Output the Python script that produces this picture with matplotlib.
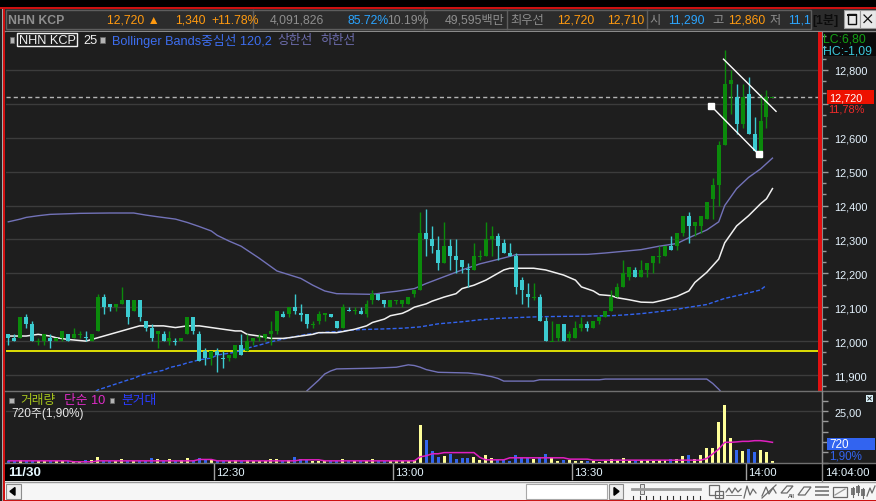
import numpy as np
import matplotlib
matplotlib.use("Agg")
import matplotlib.pyplot as plt
from matplotlib.patches import Rectangle, Polygon
import matplotlib.transforms as mtrans

plt.rcParams['font.family'] = ['Liberation Sans', 'DejaVu Sans', 'Noto Sans CJK KR']

# ------------------------------------------------------------------ data
stock_name = "NHN KCP"
open_ = [12020, 12010, 12010, 12070, 12050, 12000, 12000, 12010, 12000, 12010,
         12020, 12010, 12020, 12010, 12000, 12030, 12130, 12110, 12100, 12110,
         12120, 12090, 12120, 12060, 12040, 12020, 12020, 12000, 12000, 12000,
         12020, 12070, 12020, 11970, 11950, 11970, 11950, 11950, 11950, 11990,
         11970, 12000, 12010, 12010, 12020, 12030, 12080, 12080, 12100, 12080,
         12080, 12050, 12060, 12080, 12080, 12060, 12040, 12090, 12090, 12090,
         12080, 12120, 12140, 12120, 12100, 12120, 12110, 12110, 12140, 12150,
         12320, 12300, 12270, 12230, 12280, 12250, 12240, 12210, 12210, 12250,
         12250, 12300, 12310, 12290, 12260, 12250, 12180, 12140, 12130, 12130,
         12060, 12000, 12010, 12050, 12010, 12010, 12040, 12050, 12040, 12060,
         12070, 12090, 12130, 12160, 12190, 12210, 12190, 12210, 12230, 12250,
         12250, 12280, 12280, 12320, 12370, 12340, 12340, 12360, 12420, 12460,
         12580, 12760, 12720, 12640, 12730, 12610, 12560, 12660, 12720]
high = [12020, 12020, 12070, 12080, 12060, 12010, 12020, 12020, 12010, 12030,
        12020, 12040, 12030, 12030, 12020, 12140, 12140, 12110, 12110, 12160,
        12120, 12120, 12120, 12060, 12050, 12030, 12030, 12030, 12010, 12010,
        12070, 12070, 12030, 11980, 11970, 11980, 11970, 11960, 11990, 12020,
        12020, 12010, 12020, 12020, 12060, 12090, 12090, 12100, 12140, 12110,
        12080, 12060, 12090, 12080, 12080, 12060, 12110, 12100, 12100, 12100,
        12120, 12150, 12140, 12120, 12120, 12120, 12120, 12130, 12150, 12380,
        12390, 12340, 12310, 12350, 12300, 12300, 12240, 12230, 12290, 12270,
        12350, 12340, 12320, 12300, 12290, 12260, 12190, 12170, 12170, 12140,
        12070, 12060, 12050, 12050, 12030, 12060, 12070, 12060, 12060, 12070,
        12090, 12150, 12170, 12240, 12220, 12220, 12240, 12230, 12250, 12280,
        12280, 12310, 12320, 12370, 12380, 12350, 12370, 12410, 12480, 12590,
        12860, 12800, 12760, 12760, 12780, 12660, 12730, 12740, 12720]
low = [11990, 12000, 12010, 12040, 12000, 11990, 11990, 11980, 12000, 12000,
       12000, 12010, 12010, 12000, 12000, 12030, 12080, 12090, 12090, 12110,
       12050, 12090, 12060, 12030, 12000, 11980, 12000, 11990, 11990, 12000,
       12020, 12020, 11940, 11930, 11930, 11910, 11920, 11940, 11950, 11960,
       11970, 11990, 12000, 12000, 11990, 12020, 12070, 12070, 12080, 12060,
       12040, 12040, 12050, 12060, 12070, 12040, 12040, 12090, 12080, 12080,
       12070, 12110, 12120, 12100, 12100, 12110, 12100, 12110, 12130, 12150,
       12250, 12260, 12210, 12230, 12210, 12200, 12200, 12160, 12210, 12240,
       12250, 12250, 12240, 12260, 12250, 12140, 12110, 12100, 12120, 12060,
       12000, 12000, 12000, 12000, 12000, 12010, 12030, 12030, 12040, 12050,
       12070, 12090, 12130, 12160, 12180, 12190, 12190, 12190, 12200, 12230,
       12250, 12270, 12270, 12310, 12290, 12310, 12320, 12360, 12360, 12400,
       12580, 12670, 12610, 12630, 12610, 12560, 12540, 12630, 12720]
close = [12010, 12000, 12070, 12050, 12000, 12000, 12020, 12000, 12010, 12030,
         12000, 12020, 12020, 12010, 12020, 12130, 12100, 12100, 12110, 12120,
         12070, 12120, 12070, 12040, 12010, 12030, 12000, 12010, 12000, 12010,
         12070, 12030, 11940, 11950, 11970, 11960, 11950, 11960, 11990, 11960,
         12000, 12010, 12010, 12020, 12030, 12090, 12070, 12100, 12090, 12080,
         12050, 12050, 12080, 12080, 12070, 12040, 12100, 12090, 12090, 12080,
         12110, 12140, 12120, 12110, 12120, 12120, 12120, 12130, 12150, 12320,
         12300, 12280, 12230, 12280, 12250, 12240, 12220, 12210, 12250, 12250,
         12300, 12310, 12280, 12260, 12250, 12160, 12150, 12130, 12130, 12060,
         12000, 12000, 12050, 12000, 12020, 12040, 12050, 12040, 12060, 12070,
         12090, 12130, 12160, 12200, 12220, 12190, 12210, 12230, 12250, 12250,
         12280, 12270, 12320, 12370, 12340, 12350, 12370, 12410, 12460, 12580,
         12760, 12770, 12640, 12720, 12610, 12560, 12650, 12720, 12720]
volume = [800, 650, 1000, 650, 800, 650, 500, 650, 500, 500,
          500, 500, 300, 1000, 1000, 2450, 650, 650, 500, 1470,
          650, 500, 500, 650, 1950, 1470, 500, 1470, 650, 1000,
          1950, 800, 1950, 1000, 1470, 650, 500, 500, 1000, 500,
          1000, 800, 500, 800, 1470, 1470, 500, 1000, 2600, 1470,
          1000, 500, 500, 500, 500, 500, 1470, 500, 500, 650,
          800, 1470, 650, 650, 500, 500, 800, 800, 1000, 18200,
          10900, 5700, 2500, 3300, 4100, 1630, 1960, 2120, 2610, 1300,
          3590, 2280, 1140, 980, 815, 3590, 2280, 2120, 1630, 2610,
          4080, 2280, 815, 1300, 1300, 815, 815, 815, 490, 330,
          815, 1630, 1140, 2120, 815, 1140, 1140, 1140, 815, 1140,
          1140, 1630, 1630, 2930, 3590, 1630, 3590, 7000, 7000, 19900,
          28000, 11900, 6190, 5540, 6520, 5220, 6030, 5220, 720]
# volume simple MA(10)
vol_ma = ([800] * 11 + [330] * 4 + [800] * 17 + [1470] * 3 + [800] * 14 +
          [1300] * 4 + [800] * 16 + [2770, 3260, 4240, 4240] + [4800] * 6 +
          [2450] + [1300] * 4 + [2280] * 10 + [1630] * 4 + [1140] * 19 +
          [1960, 4200, 6520, 9800, 9800, 10000, 10270, 10270, 10600, 10600, 10270, 9800])

# moving average (white)
ma_idx = [0, 3, 5, 7, 8, 10, 13, 15, 16, 17, 18, 20, 21, 22, 26, 28, 30, 32, 34, 36,
          38, 39, 40, 42, 44, 46, 47, 49, 51, 52, 55, 56, 58, 60, 61, 63, 64, 66, 67, 68,
          69, 70, 71, 73, 75, 76, 78, 80, 81, 82, 83, 84, 88, 90, 91, 93, 95, 96, 98, 99,
          101, 102, 104, 106, 108, 110, 112, 114, 115, 117, 119, 120, 122, 124, 126, 127, 128]
ma_val = [12015, 12015, 12020, 12015, 12010, 12005, 12000, 12010, 12015, 12020,
          12025, 12035, 12040, 12045, 12045, 12040, 12045, 12045, 12040, 12035,
          12030, 12030, 12020, 12015, 12008, 12008, 12010, 12015, 12020, 12025,
          12025, 12028, 12035, 12045, 12055, 12065, 12075, 12082, 12090, 12100,
          12105, 12110, 12118, 12130, 12140, 12155, 12165, 12180, 12190, 12200,
          12210, 12215, 12215, 12210, 12205, 12195, 12180, 12160, 12148, 12137,
          12134, 12128, 12122, 12115, 12114, 12122, 12132, 12148, 12173, 12203,
          12242, 12290, 12340, 12370, 12405, 12420, 12450]
# Bollinger upper band
bb_up_idx = [0, 2, 3, 5, 7, 12, 17, 21, 23, 25, 28, 30, 32, 34, 35, 37, 39, 42, 45, 49,
             51, 53, 55, 61, 63, 65, 68, 70, 73, 76, 79, 82, 84, 85, 97, 100, 103, 106,
             109, 112, 114, 117, 119, 120, 121, 122, 124, 126, 128]
bb_up_val = [12352, 12360, 12365, 12370, 12374, 12377, 12378, 12378, 12372, 12367,
             12360, 12350, 12338, 12325, 12312, 12295, 12280, 12245, 12207, 12185,
             12165, 12148, 12140, 12138, 12143, 12147, 12155, 12170, 12190, 12210,
             12228, 12241, 12250, 12255, 12256, 12260, 12265, 12270, 12280, 12288,
             12305, 12328, 12352, 12400, 12425, 12450, 12483, 12508, 12540]
# Bollinger lower band
bb_lo_idx = [48, 50, 52, 53, 54, 55, 61, 65, 67, 68, 69, 70, 72, 77, 79, 81, 82, 83,
             88, 89, 99, 100, 117, 118, 119, 120, 121]
bb_lo_val = [11800, 11853, 11885, 11903, 11912, 11918, 11920, 11923, 11930, 11928,
             11923, 11916, 11908, 11906, 11902, 11895, 11890, 11882, 11882, 11886,
             11886, 11888, 11888, 11875, 11858, 11838, 11810]
# Bollinger centre line 120 (blue dashed)
bb_mid_idx = [13, 15, 20, 21, 22, 23, 24, 26, 27, 29, 30, 31, 32, 34, 35, 38, 40, 42, 44,
              46, 48, 50, 53, 55, 57, 59, 63, 66, 69, 72, 76, 79, 82, 86, 89, 93, 97, 101,
              103, 106, 109, 112, 114, 117, 120, 123, 126, 127]
bb_mid_val = [11830, 11856, 11885, 11890, 11898, 11903, 11907, 11914, 11922, 11930,
              11936, 11940, 11945, 11950, 11959, 11967, 11979, 11988, 11998, 12006,
              12013, 12020, 12026, 12028, 12032, 12034, 12036, 12038, 12042, 12051,
              12057, 12063, 12067, 12070, 12072, 12073, 12074, 12075, 12077, 12081,
              12087, 12094, 12100, 12108, 12126, 12138, 12151, 12165]

ref_level = 11970
trend_upper_idx = [119.8, 128.6]
trend_upper_val = [12832, 12678]
trend_lower_idx = [117.7, 125.7]
trend_lower_val = [12694, 12551]

price_ticks = [11900, 12000, 12100, 12200, 12300, 12400, 12500, 12600, 12700, 12800]
time_pos = [34.5, 64.5, 94.5, 123.5]
time_labels = ["12:30", "13:00", "13:30", "14:00"]
date_label = "11/30"
now_label = "14:04:00"
change_pct_label = "11,78%"

# ------------------------------------------------------------------ colours
BG = '#1e1e1e'
GRID = '#3c3c3c'
GREEN = '#0b8a0b'
CYAN = '#3ccbd0'
VOL_UP = '#ffff99'
VOL_DN = '#3366ee'
ORANGE = '#ff9a10'
BLUEH = '#2aa4ff'
GRAYT = '#8e8e8e'

W, H = 876, 502
fig = plt.figure(figsize=(W / 100, H / 100), dpi=100)
fig.patch.set_facecolor(BG)


def box(x0, y0, x1, y1, z=1):
    return fig.add_axes([x0 / W, 1 - y1 / H, (x1 - x0) / W, (y1 - y0) / H], zorder=z)


def pix_axes(z):
    a = box(0, 0, W, H, z)
    a.set_xlim(0, W)
    a.set_ylim(H, 0)
    a.axis('off')
    return a


def rect(a, x0, y0, x1, y1, fc, ec='none', lw=0, z=1):
    a.add_patch(Rectangle((x0, y0), x1 - x0, y1 - y0, facecolor=fc, edgecolor=ec, lw=lw, zorder=z))


bg = pix_axes(0)
ov = pix_axes(10)

# backgrounds
rect(bg, 0, 0, W, 8.4, '#000000')
rect(bg, 0, 8.3, W, 9.7, '#cc1010')
rect(bg, 5, 9.7, W, 31, '#2c2c2c')
rect(bg, 5.5, 10.5, 811, 30, 'none', ec='#5e5e5e', lw=1)
for sx in [253, 424, 506.5, 647.3]:
    bg.plot([sx, sx], [10.5, 30], color='#5e5e5e', lw=1)
bg.plot([5, W], [31.5, 31.5], color='#8a8a8a', lw=1)
rect(bg, 5, 32, W, 463.5, BG)
rect(bg, 822, 32, W, 57, '#0a0a0a')
rect(bg, 5, 463.5, W, 482, '#000000')
rect(bg, 5, 482, W, 500.6, '#f6f6f6')
bg.plot([5, W], [482.6, 482.6], color='#9a9a9a', lw=1)
rect(bg, 0, 500.6, W, H, '#cc1010')
rect(bg, 0, 9.7, 1.7, H, '#202020')
rect(bg, 1.7, 9.7, 3.3, H, '#a8a8a8')
rect(bg, 3.3, 9.7, 5.3, H, '#d01010')

# ------------------------------------------------------------------ main price panel
idx = np.arange(len(close))
o = np.array(open_, float)
c = np.array(close, float)
hi = np.array(high, float)
lo = np.array(low, float)
up = []
prev = o[0]
for oo, cc in zip(o, c):
    up.append(cc > oo or (cc == oo and cc >= prev))
    prev = cc
up = np.array(up)
ccol = np.where(up, GREEN, CYAN)

AX_L, AX_R = 6, 822
AXW = AX_R - AX_L
x_lo, x_hi = (AX_L - 8.3) / 5.97, (AX_R - 8.3) / 5.97
ax = box(AX_L, 33, AX_R, 392, 2)
ax.set_facecolor(BG)
ax.set_xlim(x_lo, x_hi)
ax.set_ylim(11852.8, 12912.1)
ax.set_xticks([])
ax.yaxis.tick_right()
ax.set_yticks(price_ticks)
# the 12,700 label is hidden behind the current-price box in the reference
ax.set_yticklabels(['' if p == 12700 else f"{p:,}" for p in price_ticks])
ax.set_yticks(np.arange(11866.67, 12905, 100 / 3), minor=True)
ax.tick_params(axis='y', which='both', direction='out', length=4, width=1,
               color='#9a9a9a', labelsize=7.9, labelcolor='#e6f4ff', pad=5)
ax.tick_params(axis='y', which='minor', length=3)
for s in ['top', 'left', 'bottom']:
    ax.spines[s].set_visible(False)
ax.spines['right'].set_color('#8a8a8a')
xm = (818 - AX_L) / AXW
for p in price_ticks:
    ax.axhline(p, xmax=xm, color=GRID, lw=1, zorder=1)

ax.axhline(ref_level, xmax=xm, color='#ffff00', lw=1.2, zorder=2)
ax.axhline(c[-1], xmax=xm, color='#b4b4b4', lw=1, dashes=(3, 2.2), zorder=2)

ax.plot(bb_up_idx, bb_up_val, color='#7272b8', lw=1.0, zorder=3)
ax.plot(bb_lo_idx, bb_lo_val, color='#7272b8', lw=1.0, zorder=3)
ax.plot(bb_mid_idx, bb_mid_val, color='#3264f0', lw=1.0, dashes=(2.9, 1.5), zorder=3)
ax.plot(ma_idx, ma_val, color='#f0f0f0', lw=1.1, zorder=3)

ax.vlines(idx, lo, hi, colors=ccol, lw=1.0, zorder=4)
bh = np.maximum(np.abs(c - o), 3)
bb = np.where(c == o, o - 1.5, np.minimum(o, c))
ax.bar(idx, bh, bottom=bb, width=0.67, color=ccol, lw=0, zorder=5)

ax.plot(trend_upper_idx, trend_upper_val, color='white', lw=1, zorder=6)
ax.plot(trend_lower_idx, trend_lower_val, color='white', lw=1, zorder=6)
ax.plot(trend_lower_idx, trend_lower_val, 's', color='white', ms=4.6, zorder=7)

# current price box on the right axis
yt = ax.get_yaxis_transform()
bx0 = (826.7 - AX_L) / AXW
bw = (873.5 - 826.7) / AXW
ax.add_patch(Rectangle((bx0, c[-1] - 19.6), bw, 39.2, transform=yt,
                       facecolor='#ee1100', edgecolor='none', clip_on=False, zorder=8))
ax.text((829.5 - AX_L) / AXW, c[-1], f"{int(c[-1]):,}", transform=yt, color='white',
        fontsize=7.9, va='center', ha='left', clip_on=False, zorder=9)
ax.text((828.5 - AX_L) / AXW, c[-1], change_pct_label, color='#ee2a2a', fontsize=7.9,
        va='center', ha='left',
        transform=mtrans.offset_copy(yt, fig, x=0, y=-11.8, units='dots'), clip_on=False)

# ------------------------------------------------------------------ volume panel
axv = box(AX_L, 392, AX_R, 463.5, 2)
axv.set_facecolor(BG)
axv.set_xlim(x_lo, x_hi)
axv.set_ylim(0, 34709)
axv.set_xticks([])
axv.yaxis.tick_right()
vt = list(range(0, 35000, 5000))
axv.set_yticks(vt)
axv.set_yticklabels(['25,00' if v == 25000 else '' for v in vt])
axv.tick_params(axis='y', direction='out', length=4, width=1, color='#9a9a9a',
                labelsize=7.9, labelcolor='#e6f4ff', pad=5)
for s in ['top', 'left', 'bottom']:
    axv.spines[s].set_visible(False)
axv.spines['right'].set_color('#8a8a8a')
axv.axhline(25000, color=GRID, lw=1, zorder=1)
vcol = np.where(up, VOL_UP, VOL_DN)
axv.bar(idx, volume, width=0.5, color=vcol, lw=0, zorder=3)
axv.plot(idx, vol_ma, color='#e020c0', lw=1.1, zorder=4)

# ------------------------------------------------------------------ time strip
axx = box(AX_L, 463.5, AX_R, 482, 2)
axx.set_xlim(x_lo, x_hi)
axx.set_ylim(0, 1)
axx.axis('off')
for pos, lab in zip(time_pos, time_labels):
    axx.axvline(pos, ymin=0.12, color='#a0a0a0', lw=1)
    axx.text(pos + 0.35, 0.5, lab, va='center', ha='left', color='#e6f6ff', fontsize=8.2)

# ------------------------------------------------------------------ overlay decorations
rect(ov, 818, 33, 821.5, 392, '#e01010')
ov.plot([5, W], [392, 392], color='#707070', lw=1)
ov.plot([5, W], [463.5, 463.5], color='#707070', lw=1)
ov.plot([822, 822], [392, 482], color='#8a8a8a', lw=1)
ov.text(8, 472.8, date_label, color='#e6f8ff', fontsize=9.6, fontweight='bold', va='center')
ov.text(825.5, 472.8, now_label, color='#e6f6ff', fontsize=8.2, va='center')

# header
hy = 20.6
hdr = [(8, stock_name, GRAYT, 'bold'), (107, '12,720 ▲', ORANGE, 'normal'),
       (175, '1,340', ORANGE, 'normal'), (211, '+11.78%', ORANGE, 'normal'),
       (270, '4,091,826', GRAYT, 'normal'), (347, '85.72%', BLUEH, 'normal'),
       (387, '10.19%', GRAYT, 'normal'), (445, '49,595백만', GRAYT, 'normal'),
       (510, '최우선', GRAYT, 'normal'), (557, '12,720', ORANGE, 'normal'),
       (607, '12,710', ORANGE, 'normal'), (649, '시', GRAYT, 'normal'),
       (668, '11,290', BLUEH, 'normal'), (712, '고', GRAYT, 'normal'),
       (728, '12,860', ORANGE, 'normal'), (770, '저', GRAYT, 'normal'),
       (788, '11,1', BLUEH, 'normal')]
for hx, t, col, fw in hdr:
    ov.text(hx, hy, t, color=col, fontsize=8.8, fontweight=fw, va='center', ha='left')
ov.text(812, hy, '[1분]', color='#0c0c0c', fontsize=8.8, fontweight='bold', va='center')
rect(ov, 844, 11, 859.5, 29, '#e8e8e8', ec='#9a9a9a', lw=0.8)
rect(ov, 847.5, 15, 856, 24.5, 'none', ec='#111111', lw=1.0)
ov.plot([847.5, 856], [16.2, 16.2], color='#111111', lw=1.4)
rect(ov, 860, 11, 875.5, 29, '#e8e8e8', ec='#9a9a9a', lw=0.8)
ov.plot([864, 871.5], [16, 23.5], color='#111111', lw=0.9)
ov.plot([864, 871.5], [23.5, 16], color='#111111', lw=0.9)

# main legend
ly = 40.8
rect(ov, 9.5, 38, 14, 44, '#b4b4b4', ec='#6a6a6a', lw=0.5)
rect(ov, 16.5, 34, 76.5, 47, 'none', ec='#f0f0f0', lw=1)
ov.text(19, ly, stock_name, color='#f0f0f0', fontsize=9.2, va='center')
ov.text(83.5, ly, '25', color='#f0f0f0', fontsize=9.2, va='center')
rect(ov, 100, 38, 104.7, 44, '#b4b4b4', ec='#6a6a6a', lw=0.5)
ov.text(111.5, ly, 'Bollinger Bands중심선 120,2', color='#3d6ef0', fontsize=9.2, va='center')
ov.text(277, ly, '상한선', color='#6d6dae', fontsize=9.2, va='center')
ov.text(320, ly, '하한선', color='#6d6dae', fontsize=9.2, va='center')
ov.text(823.5, 39.5, 'LC:6,80', color='#14a014', fontsize=8.8, va='center')
ov.text(823.5, 51, 'HC:-1,09', color='#3cc8dc', fontsize=8.8, va='center')

# volume legend
vy = 401.5
rect(ov, 9.3, 398.5, 13.5, 403.8, '#b4b4b4', ec='#6a6a6a', lw=0.5)
ov.text(20, vy, '거래량', color='#a4c21c', fontsize=9.2, va='center')
ov.text(64, vy, '단순 10', color='#e02cc8', fontsize=9.2, va='center')
rect(ov, 110, 398.5, 114.3, 403.8, '#b4b4b4', ec='#6a6a6a', lw=0.5)
ov.text(121, vy, '분거대', color='#2a3cff', fontsize=9.2, va='center')
ov.text(11, 414, '720주(1,90%)', color='#e8e8e8', fontsize=8.6, va='center')
rect(ov, 866, 396, 873, 403, '#d8f0f8')
ov.plot([867.8, 871.2], [397.8, 401.2], color='#202020', lw=0.7)
ov.plot([867.8, 871.2], [401.2, 397.8], color='#202020', lw=0.7)
rect(ov, 826.7, 439.3, 875, 451.3, '#3264f0')
ov.text(829, 445.3, '720', color='white', fontsize=8.4, va='center')
ov.text(829, 456.7, '1,90%', color='#3264f0', fontsize=8.4, va='center')

# bottom toolbar
rect(ov, 5.5, 485, 20.7, 499.8, '#ececec', ec='#8c8c8c', lw=0.8)
ov.add_patch(Polygon([(10, 492.4), (15, 488.5), (15, 496.3)], closed=True, color='#000000'))
rect(ov, 526, 485, 606.7, 499.5, '#ffffff', ec='#a8a8a8', lw=0.8)
rect(ov, 609, 485, 623, 499.5, '#ececec', ec='#8c8c8c', lw=0.8)
ov.add_patch(Polygon([(614, 488.5), (619, 492.4), (614, 496.3)], closed=True, color='#000000'))
ov.plot([632, 700], [489.5, 489.5], color='#9a9a9a', lw=2)
rect(ov, 639.5, 485, 644, 494.5, '#e2e2e2', ec='#707070', lw=0.7)
for k in range(11):
    tx = 633 + 6.7 * k
    ov.plot([tx, tx], [496.5, 499.5], color='#303030', lw=0.8)
IC = '#6a6a6a'
rect(ov, 709, 486, 719, 496, 'none', ec=IC, lw=0.9)
rect(ov, 715, 492, 722.5, 499, '#f6f6f6', ec=IC, lw=0.9)
ov.plot([718.7, 718.7], [492, 499], color=IC, lw=0.8)
ov.plot([715, 722.5], [495.5, 495.5], color=IC, lw=0.8)
ov.plot([726, 729, 732, 735, 738, 741], [493, 489, 494, 489, 493, 490], color=IC, lw=0.9)
ov.plot([726, 741], [496, 496], color=IC, lw=0.6)
ov.plot([744, 747, 750, 753, 756], [499, 487, 496, 490, 494], color=IC, lw=0.9)
ov.plot([762, 766, 769, 773, 776], [497, 488, 495, 489, 494], color=IC, lw=0.9)
ov.plot([762, 776], [499, 486], color=IC, lw=0.9)
ov.add_patch(Polygon([(781, 494), (787, 487), (793, 487), (787, 494)], closed=True, fill=False, ec=IC, lw=0.9))
ov.text(788, 497, 'All', color='#303030', fontsize=4.5, va='center')
ov.add_patch(Polygon([(798, 496), (804, 488), (811, 488), (805, 496)], closed=True, fill=False, ec=IC, lw=0.9))
for yy in [488, 492, 496]:
    rect(ov, 815, yy - 1, 829, yy + 1, '#8a8a8a')
rect(ov, 833, 488, 847, 498, 'none', ec=IC, lw=0.9)
ov.plot([835, 845], [496, 490], color='#9a9a9a', lw=0.9)
for cx, y0, y1 in [(853, 489, 496), (858, 487, 494), (863, 490, 497)]:
    ov.plot([cx, cx], [y0 - 1.5, y1 + 1.5], color=IC, lw=0.8)
    rect(ov, cx - 1.8, y0, cx + 1.8, y1, '#7a7a7a')
ov.plot([867, 870, 872, 875], [497, 489, 494, 487], color=IC, lw=0.9)

fig.savefig('out.png', dpi=100, facecolor=fig.get_facecolor())
